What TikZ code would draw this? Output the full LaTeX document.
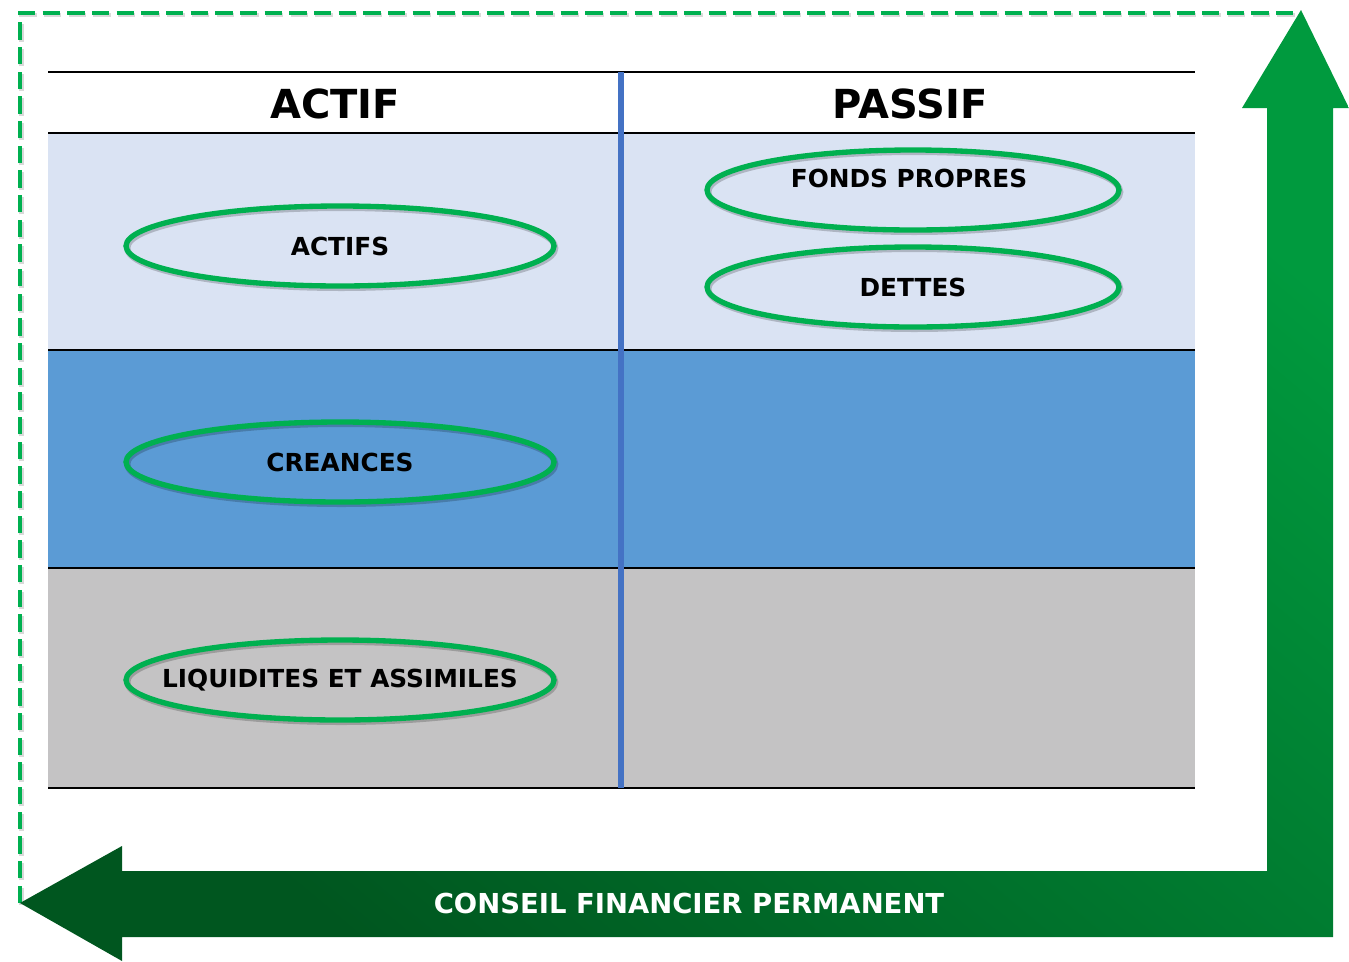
\documentclass[tikz,border=0pt]{standalone}
\usepackage{fontspec}
\setmainfont{DejaVu Sans}
\usepackage{xcolor}
\definecolor{rowlight}{HTML}{DAE3F3}
\definecolor{rowblue}{HTML}{5B9BD5}
\definecolor{rowgray}{HTML}{C4C3C4}
\definecolor{divider}{HTML}{4472C4}
\definecolor{ovalgreen}{HTML}{00B050}
\definecolor{arrowlight}{HTML}{009A3E}
\definecolor{arrowdark}{HTML}{00561F}
\usepackage{tikz}
\usetikzlibrary{positioning,shapes}
\newcommand{\ovalnode}[3]{
\node (#1) [#2, label={[ovaltext]center:#3}]{};}
\tikzstyle{ovaltext}=[text=black, font=\bfseries\fontsize{18.6pt}{22pt}\selectfont]
\tikzstyle{oval}=[ellipse, draw=ovalgreen, line width=4pt, minimum width=321pt, minimum height=60pt,
        inner sep=0pt,
        preaction={draw=black, opacity=0.2, line width=4.5pt, transform canvas={xshift=1pt, yshift=-1.5pt}}]
\tikzstyle{ovalright}=[oval, minimum width=309pt]
\tikzstyle{header}=[font=\bfseries\fontsize{30pt}{34pt}\selectfont, text=black]
\tikzstyle{bandtext}=[font=\bfseries\fontsize{20.6pt}{24pt}\selectfont, text=white]
\tikzstyle{rule}=[black, line width=1.1pt]
\tikzstyle{thickrule}=[black, line width=1.9pt]
\tikzstyle{border}=[ovalgreen, line width=3.6pt, dash pattern=on 13pt off 5.5pt]

\begin{document}
\begin{tikzpicture}[x=0.75pt, y=-0.75pt]
\useasboundingbox (0,0) rectangle (1349,961);

% table rows
\fill[rowlight] (48,133) rectangle (1195,350);
\fill[rowblue] (48,350) rectangle (1195,568);
\fill[rowgray] (48,568) rectangle (1195,788);
\draw[rule] (48,72) -- (1195,72);
\draw[thickrule] (48,133) -- (1195,133);
\draw[black, line width=0.8pt] (48,350) -- (1195,350);
\draw[black, line width=0.8pt] (48,568) -- (1195,568);
\draw[thickrule] (48,788) -- (1195,788);
\draw[divider, line width=5pt] (621,72) -- (621,788);

\node (actif) [header] at (335,104) {ACTIF};
\node (passif) [header] at (910,104) {PASSIF};

% ovals
\ovalnode{actifs}{oval, at={(340,246)}}{ACTIFS}
\ovalnode{creances}{oval, at={(340,462)}}{CREANCES}
\ovalnode{liquidites}{oval, at={(340,680)}}{LIQUIDITES ET ASSIMILES}
\node (fonds) [ovalright] at (913,190) {};
\node (fondstext) [ovaltext] at (909,178) {FONDS PROPRES};
\ovalnode{dettes}{ovalright, at={(913,287)}}{DETTES}

% dashed frame
\draw[border, black, opacity=0.15, transform canvas={xshift=1pt, yshift=-1.5pt}] (20,903) -- (20,13) -- (1300,13);
\draw[border] (20,903) -- (20,13) -- (1300,13);

% bent arrow
\shade[top color=arrowlight, bottom color=arrowdark, shading angle=-40]
  (1301,10) -- (1349,108) -- (1333,108) -- (1333,937) -- (122,937) -- (122,961) -- (20,903)
  -- (122,846) -- (122,871) -- (1267,871) -- (1267,108) -- (1242,108) -- cycle;
\node (conseil) [bandtext] at (689,903) {CONSEIL FINANCIER PERMANENT};

\end{tikzpicture}
\end{document}
